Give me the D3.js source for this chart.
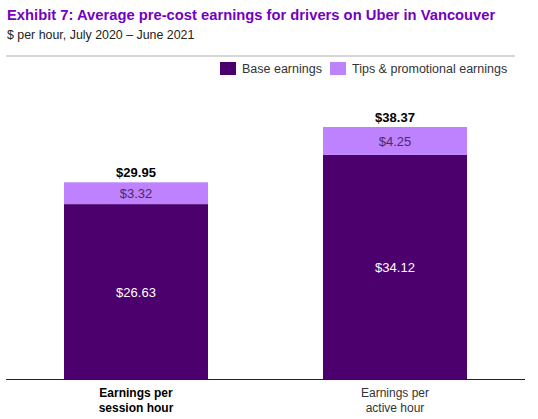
<!DOCTYPE html>
<html><head><meta charset="utf-8">
<script src="https://cdn.jsdelivr.net/npm/d3@7"></script>
<style>body{margin:0;background:#fff}svg{display:block;font-family:"Liberation Sans",Arial,sans-serif}</style>
</head><body><svg id="c" width="538" height="419"></svg>
<script>
const categories = ["Earnings per session hour", "Earnings per active hour"];
const categoryLines = [["Earnings per","session hour"],["Earnings per","active hour"]];
const baseEarnings = [26.63, 34.12];
const tipsEarnings = [3.32, 4.25];
const totals = [29.95, 38.37];
const seriesNames = ["Base earnings", "Tips & promotional earnings"];
const colors = ["#4b006e", "#be82ff"];

const svg = d3.select("#c");
const baseY = 379;
const x = d3.scaleBand().domain(categories).range([64, 467]).paddingInner(0.444).paddingOuter(0);
const y = d3.scaleLinear().domain([0, 38.37]).range([baseY, 127]);

svg.append("text").attr("x", 7).attr("y", 20).attr("font-size", 14.75).attr("font-weight", "bold")
  .attr("fill", "#7500c0").text("Exhibit 7: Average pre-cost earnings for drivers on Uber in Vancouver");
svg.append("text").attr("x", 7).attr("y", 39).attr("font-size", 12.4).attr("fill", "#222")
  .text("$ per hour, July 2020 – June 2021");
svg.append("line").attr("x1", 6).attr("x2", 515).attr("y1", 56).attr("y2", 56).attr("stroke", "#c8c8c8").attr("stroke-width", 1.5);

// legend
const leg = [{x:220, n:seriesNames[0], c:colors[0]}, {x:330, n:seriesNames[1], c:colors[1]}];
leg.forEach(l => {
  svg.append("rect").attr("x", l.x).attr("y", 62).attr("width", 16).attr("height", 13).attr("fill", l.c);
  svg.append("text").attr("x", l.x + 22).attr("y", 73).attr("font-size", 12.5).attr("fill", "#333").text(l.n);
});

const stack = d3.stack().keys([0,1]).value((d, k) => k === 0 ? d.b : d.t);
const data = categories.map((c, i) => ({c, b: baseEarnings[i], t: tipsEarnings[i]}));
const layers = stack(data);
layers.forEach((layer, li) => {
  svg.selectAll(null).data(layer).join("rect")
    .attr("x", d => x(d.data.c)).attr("width", x.bandwidth())
    .attr("y", d => y(d[1])).attr("height", d => y(d[0]) - y(d[1]))
    .attr("fill", colors[li]);
  svg.selectAll(null).data(layer).join("text")
    .attr("x", d => x(d.data.c) + x.bandwidth()/2)
    .attr("y", d => (y(d[0]) + y(d[1]))/2 + 5)
    .attr("text-anchor", "middle").attr("font-size", 13)
    .attr("fill", li === 0 ? "#fff" : "#4a2a66")
    .text(d => "$" + (d[1]-d[0]).toFixed(2));
});
svg.selectAll(null).data(categories).join("text")
  .attr("x", d => x(d) + x.bandwidth()/2).attr("y", (d,i) => y(totals[i]) - 5)
  .attr("text-anchor", "middle").attr("font-size", 13).attr("font-weight", "bold").attr("fill", "#000")
  .text((d,i) => "$" + totals[i].toFixed(2));

svg.append("line").attr("x1", 6).attr("x2", 525).attr("y1", baseY + 0.5).attr("y2", baseY + 0.5).attr("stroke", "#222").attr("stroke-width", 1);

categories.forEach((c, i) => {
  const t = svg.append("text").attr("x", x(c) + x.bandwidth()/2).attr("y", 397)
    .attr("text-anchor", "middle").attr("font-size", 12)
    .attr("font-weight", i === 0 ? "bold" : "normal").attr("fill", i === 0 ? "#000" : "#333");
  categoryLines[i].forEach((ln, j) => t.append("tspan").attr("x", x(c) + x.bandwidth()/2).attr("dy", j ? 15 : 0).text(ln));
});
</script></body></html>
